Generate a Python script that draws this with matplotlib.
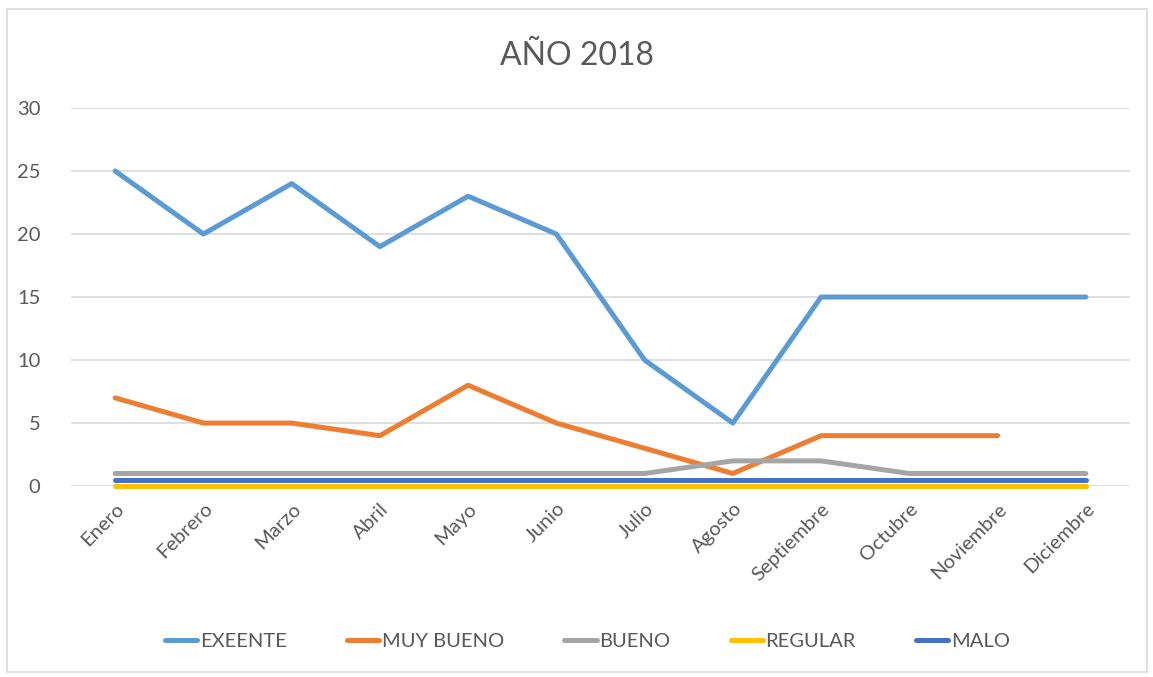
import numpy as np
import matplotlib
matplotlib.use('Agg')
import matplotlib.pyplot as plt
from matplotlib.patches import Rectangle

plt.rcParams['font.family'] = ['Lato', 'DejaVu Sans']

# === DATA ===
meses = ['Enero', 'Febrero', 'Marzo', 'Abril', 'Mayo', 'Junio', 'Julio',
         'Agosto', 'Septiembre', 'Octubre', 'Noviembre', 'Diciembre']
exeente = [25, 20, 24, 19, 23, 20, 10, 5, 15, 15, 15, 15]
muy_bueno = [7, 5, 5, 4, 8, 5, 3, 1, 4, 4, 4, np.nan]
bueno = [1, 1, 1, 1, 1, 1, 1, 2, 2, 1, 1, 1]
regular = [0, 0, 0, 0, 0, 0, 0, 0, 0, 0, 0, 0]
malo = [0.5, 0.5, 0.5, 0.5, 0.5, 0.5, 0.5, 0.5, 0.5, 0.5, 0.5, 0.5]

series = [
    ('EXEENTE', exeente, '#5B9BD5'),
    ('MUY BUENO', muy_bueno, '#ED7D31'),
    ('BUENO', bueno, '#A5A5A5'),
    ('REGULAR', regular, '#FFC000'),
    ('MALO', malo, '#4472C4'),
]

txt = '#595959'

fig = plt.figure(figsize=(11.53, 6.77), dpi=100)
ax = fig.add_axes([0.0616, 0.282, 0.9184, 0.5585])

x = np.arange(len(meses))
for name, vals, col in series:
    ax.plot(x, vals, color=col, linewidth=3.6, label=name, clip_on=False,
            solid_capstyle='round', solid_joinstyle='round')

ax.set_xlim(-0.5, len(meses) - 0.5)
ax.set_ylim(0, 30)
ax.set_yticks(range(0, 31, 5))
ax.set_xticks(x)
ax.set_xticklabels(meses, rotation=45, ha='right', rotation_mode='anchor')
ax.tick_params(axis='both', length=0, colors=txt, labelsize=14.5)
ax.tick_params(axis='y', pad=22)
ax.tick_params(axis='x', pad=10)
ax.grid(axis='y', color='#D9D9D9', linewidth=1.2)
ax.set_axisbelow(True)
for s in ax.spines.values():
    s.set_visible(False)

fig.text(0.5, 0.918, 'AÑO 2018', ha='center', va='center', fontsize=23, color=txt)

fig.legend(loc='center', bbox_to_anchor=(0.5095, 0.052), ncol=5, frameon=False,
           fontsize=14.5, labelcolor=txt, handlelength=1.6, handletextpad=0.12,
           columnspacing=3.0)

# outer chart border
fig.patches.append(Rectangle((0.006, 0.007), 0.989, 0.98, transform=fig.transFigure,
                             fill=False, edgecolor='#D9D9D9', linewidth=1.2))

plt.savefig('out.png', dpi=100)
